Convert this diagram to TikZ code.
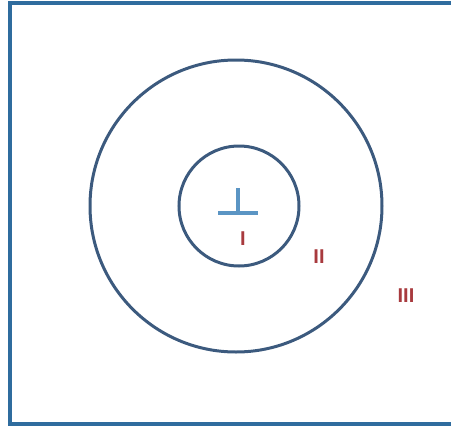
\documentclass[tikz,border=0pt]{standalone}
\usepackage{fontspec}
\setmainfont{Liberation Sans}
\usepackage{xcolor}
\usepackage{tikz}
\usetikzlibrary{positioning}

\definecolor{framecol}{HTML}{2F6C9E}
\definecolor{ringcol}{HTML}{3C5A7E}
\definecolor{markcol}{HTML}{5B95C4}
\definecolor{zonecol}{HTML}{A83A3E}

\begin{document}
\begin{tikzpicture}[x=1pt,y=-1pt,
    ring/.style={circle,draw=ringcol,line width=3pt,inner sep=0pt},
    zone/.style={text=zonecol,font=\fontsize{20}{24}\selectfont\bfseries,inner sep=0pt}
]
\useasboundingbox (0,0) rectangle (451,429);
\clip (0,0) rectangle (451,429);
\draw[framecol,line width=3.5pt] (10,3) rectangle (455,424);

\node[ring,minimum size=292pt] (outer) at (236,206) {};
\node[ring,minimum size=120pt] (inner) at (239,206) {};

% perpendicular mark
\coordinate (foot) at (238,213);
\draw[markcol,line width=3.2pt] (foot) -- ++(0,-25);
\draw[markcol,line width=3.2pt] ([xshift=-20pt]foot) -- ([xshift=20pt]foot);

\node[zone] (z1) at (243,239) {I};
\node[zone] (z2) at (319,257) {II};
\node[zone] (z3) at (406,296) {III};
\end{tikzpicture}
\end{document}
